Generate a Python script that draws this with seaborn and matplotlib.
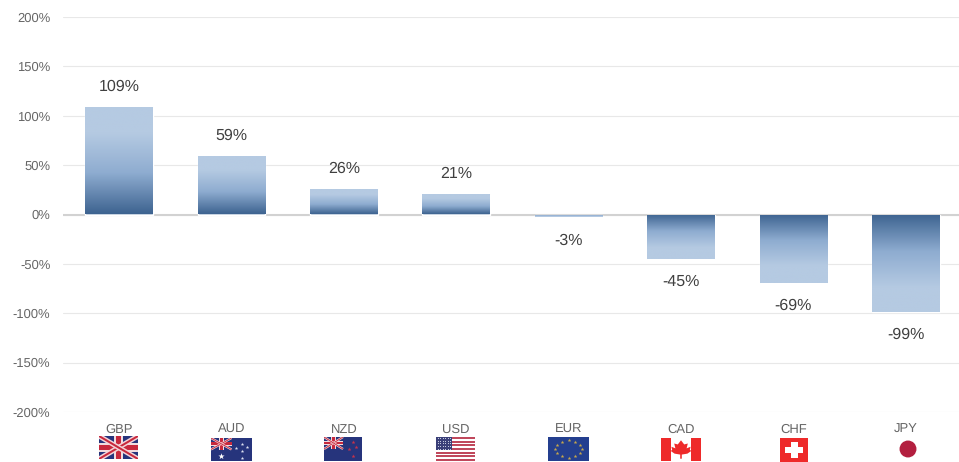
"""
Currency strength bar chart with gradient bars and small flags under the axis
"""

import matplotlib
matplotlib.use('Agg')
import matplotlib.pyplot as plt
from matplotlib.colors import LinearSegmentedColormap
from matplotlib.patches import Circle, Polygon, Rectangle
import numpy as np
import seaborn as sns

currencies = ['GBP', 'AUD', 'NZD', 'USD', 'EUR', 'CAD', 'CHF', 'JPY']
strength = [109, 59, 26, 21, -3, -45, -69, -99]
y_ticks = [-200, -150, -100, -50, 0, 50, 100, 150, 200]

W, H = 959, 462
NAVY = '#26347c'
RED = '#c8283c'

bar_cmap = LinearSegmentedColormap.from_list(
    'bar_fade', [(0, '#3d6390'), (0.38, '#8eacd0'), (0.75, '#b5cae2'), (1, '#b5cae2')])


def flag_axes(fig, left, top, right, bottom, bg='white'):
    """Small axes in pixel position, unit coordinates inside"""
    a = fig.add_axes([left / W, 1 - bottom / H, (right - left) / W, (bottom - top) / H])
    a.set_xlim(0, 1)
    a.set_ylim(0, 1)
    a.set_facecolor(bg)
    a.axis('off')
    a.add_patch(Rectangle((0, 0), 1, 1, color=bg, lw=0))
    return a


def union_jack(a, x0, y0, w, h, lw=1.0):
    """Union jack inside the box (x0, y0, w, h)"""
    x1, y1 = x0 + w, y0 + h
    for xs, ys in [((x0, x1), (y0, y1)), ((x0, x1), (y1, y0))]:
        a.plot(xs, ys, color='#f4d4d8', lw=lw * 2.0, solid_capstyle='butt')
        a.plot(xs, ys, color=RED, lw=lw * 0.8, solid_capstyle='butt')
    a.add_patch(Rectangle((x0 + w * 0.38, y0), w * 0.24, h, color='#f0dcdf', lw=0))
    a.add_patch(Rectangle((x0, y0 + h * 0.32), w, h * 0.36, color='#f0dcdf', lw=0))
    a.add_patch(Rectangle((x0 + w * 0.43, y0), w * 0.14, h, color=RED, lw=0))
    a.add_patch(Rectangle((x0, y0 + h * 0.39), w, h * 0.22, color=RED, lw=0))


def draw_flags(fig):
    # GBP
    a = flag_axes(fig, 99, 436, 138, 459, NAVY)
    union_jack(a, 0, 0, 1, 1, lw=1.8)

    # AUD
    a = flag_axes(fig, 211, 438, 252, 461, NAVY)
    union_jack(a, 0, 0.5, 0.5, 0.5, lw=0.8)
    a.scatter([0.25], [0.23], marker='*', s=22, color='white', lw=0)
    a.scatter([0.62, 0.75, 0.87, 0.76, 0.76], [0.55, 0.72, 0.6, 0.42, 0.12],
              marker='*', s=7, color='#dfe3f2', lw=0)

    # NZD
    a = flag_axes(fig, 324, 437, 362, 461, NAVY)
    union_jack(a, 0, 0.5, 0.5, 0.5, lw=0.8)
    a.scatter([0.65, 0.75, 0.85, 0.76], [0.52, 0.78, 0.6, 0.2],
              marker='*', s=9, color='#c8324a', lw=0)

    # USD
    a = flag_axes(fig, 436, 437, 475, 461, 'white')
    for i in range(13):
        if i % 2 == 0:
            a.add_patch(Rectangle((0, i / 13), 1, 1 / 13, color='#c0485c', lw=0))
    a.add_patch(Rectangle((0, 6 / 13), 0.4, 7 / 13, color='#3a3f78', lw=0))
    sx, sy = np.meshgrid(np.linspace(0.04, 0.36, 6), np.linspace(0.52, 0.96, 5))
    a.scatter(sx.ravel(), sy.ravel(), marker='.', s=2.5, color='#d8dcec', lw=0)

    # EUR, ring of twelve stars
    a = flag_axes(fig, 548, 437, 589, 461, '#243f8f')
    angles = np.arange(12) * np.pi / 6
    a.scatter(0.5 + 0.33 * np.cos(angles), 0.5 + 0.36 * np.sin(angles),
              marker='*', s=8, color='#c9a94a', lw=0)

    # CAD
    a = flag_axes(fig, 661, 438, 701, 461, 'white')
    a.add_patch(Rectangle((0, 0), 0.26, 1, color='#ee2a2a', lw=0))
    a.add_patch(Rectangle((0.74, 0), 0.26, 1, color='#ee2a2a', lw=0))
    a.add_patch(Polygon([(0.5, 0.9), (0.58, 0.72), (0.67, 0.76), (0.64, 0.55), (0.74, 0.62),
                         (0.72, 0.48), (0.76, 0.44), (0.66, 0.32), (0.52, 0.28), (0.52, 0.1),
                         (0.48, 0.1), (0.48, 0.28), (0.34, 0.32), (0.24, 0.44), (0.28, 0.48),
                         (0.26, 0.62), (0.36, 0.55), (0.33, 0.76), (0.42, 0.72)],
                        color='#ee2a2a', lw=0))

    # CHF
    a = flag_axes(fig, 780, 438, 808, 462, '#ee2a2a')
    a.add_patch(Rectangle((0.19, 0.37), 0.64, 0.27, color='white', lw=0))
    a.add_patch(Rectangle((0.375, 0.18), 0.27, 0.64, color='white', lw=0))

    # JPY
    a = flag_axes(fig, 899, 440, 917, 458, 'white')
    a.add_patch(Circle((0.5, 0.5), 0.47, color='#b31f3f', lw=0))


def create_chart():
    sns.set_theme(style='white')
    plt.rcParams['font.family'] = ['Liberation Sans', 'DejaVu Sans']
    plt.rcParams['text.hinting'] = 'none'
    plt.rcParams['text.hinting_factor'] = 1

    fig = plt.figure(figsize=(W / 100, H / 100), dpi=100)
    ax = fig.add_axes([62.8 / W, 1 - 412 / H, 899.2 / W, 395 / H])

    sns.barplot(x=currencies, y=strength, order=currencies, width=0.6,
                color='#b5cae2', ax=ax, zorder=2)

    # Replace flat bar fill with a vertical gradient that starts at the baseline
    fade = np.linspace(0, 1, 256).reshape(-1, 1)
    for patch, value in zip(ax.patches, strength):
        x0, w = patch.get_x(), patch.get_width()
        img = ax.imshow(fade, cmap=bar_cmap, aspect='auto', zorder=2.5,
                        origin='lower' if value > 0 else 'upper',
                        extent=(x0, x0 + w, min(value, 0), max(value, 0)))
        img.set_clip_path(patch)
        offset = 14.5 if value > 0 else -16.5
        ax.annotate(f'{value}%', (patch.get_x() + w / 2, value), xytext=(0, offset),
                    textcoords='offset points', ha='center', va='center',
                    fontsize=11.2, color='#404040', zorder=4)

    ax.set_xlim(-0.5, len(currencies) - 0.5)
    ax.set_ylim(y_ticks[0], y_ticks[-1])
    ax.set_yticks(y_ticks)
    ax.set_yticklabels([f'{t}%' for t in y_ticks])
    ax.set_xlabel('')
    ax.set_ylabel('')
    ax.tick_params(axis='y', length=0, pad=9, labelsize=9.6, labelcolor='#666666')
    ax.tick_params(axis='x', length=0, pad=8.5, labelsize=9.6, labelcolor='#666666')

    ax.grid(axis='y', color='#e8e8e8', lw=0.8, zorder=0)
    ax.set_axisbelow(True)
    ax.axhline(0, color='#d2d2d2', lw=1.5, zorder=1.5)
    sns.despine(ax=ax, left=True, bottom=True)

    draw_flags(fig)

    fig.savefig('out.png', dpi=100)


if __name__ == "__main__":
    create_chart()
